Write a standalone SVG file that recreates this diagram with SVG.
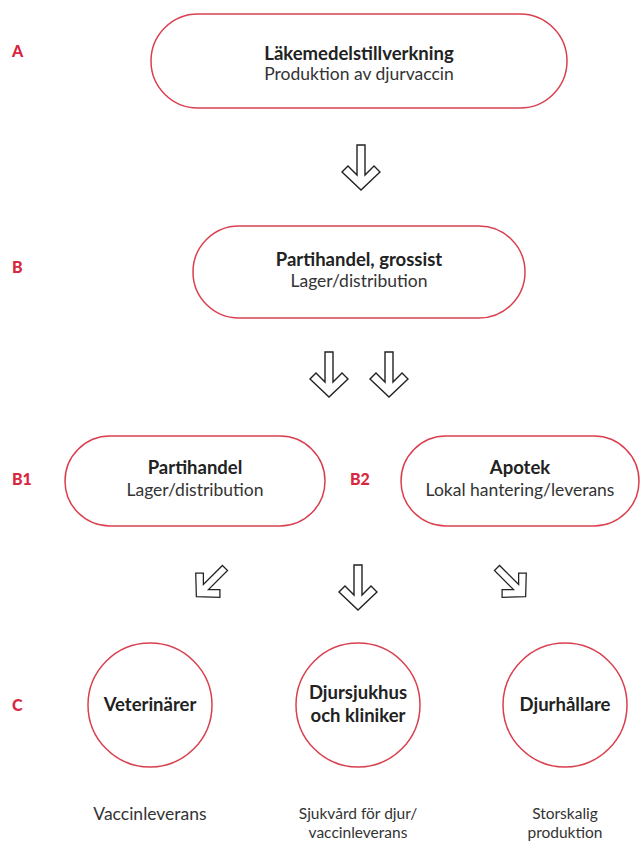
<svg xmlns="http://www.w3.org/2000/svg" width="641" height="843" viewBox="0 0 641 843">
<style>
.box{fill:#fff;stroke:#d9404f;stroke-width:1.5}
.t{font-family:Lato,"Open Sans",sans-serif;fill:#222;text-anchor:middle}
.b{font-weight:700;font-size:18.5px}
.r{font-size:17.5px;fill:#333}
.c{font-size:15.5px}
.lab{font-family:Lato,"Open Sans",sans-serif;font-weight:900;font-size:16px;fill:#d9263f}
.arr{fill:#fff;stroke:#222;stroke-width:1.4;stroke-linejoin:miter}
</style>
<defs>
<polygon id="ad" points="-4,-22 4,-22 4,8 13,-1 19,5 0,23 -19,5 -13,-1 -4,8"/>
</defs>
<rect width="641" height="843" fill="#fff"/>
<g id="labels">
<text class="lab" x="12" y="57">A</text>
<text class="lab" x="12" y="273">B</text>
<text class="lab" x="12" y="485">B1</text>
<text class="lab" x="350" y="485">B2</text>
<text class="lab" x="12" y="711">C</text>
</g>
<g id="nodeA">
<rect class="box" x="151" y="14" width="416" height="94" rx="47"/>
<text class="t b" x="359" y="60">Läkemedelstillverkning</text>
<text class="t r" x="359" y="80">Produktion av djurvaccin</text>
</g>
<g id="nodeB">
<rect class="box" x="193" y="226" width="332" height="92" rx="46"/>
<text class="t b" x="359" y="266">Partihandel, grossist</text>
<text class="t r" x="359" y="287">Lager/distribution</text>
</g>
<g id="nodeB1">
<rect class="box" x="65" y="436" width="260" height="90" rx="45"/>
<text class="t b" x="195" y="474">Partihandel</text>
<text class="t r" x="195" y="496">Lager/distribution</text>
</g>
<g id="nodeB2">
<rect class="box" x="401" y="436" width="238" height="90" rx="45"/>
<text class="t b" x="520" y="474">Apotek</text>
<text class="t r" x="520" y="496">Lokal hantering/leverans</text>
</g>
<g id="nodeC1">
<circle class="box" cx="150" cy="705" r="62"/>
<text class="t b" x="150" y="711">Veterinärer</text>
</g>
<g id="nodeC2">
<circle class="box" cx="358" cy="705" r="62"/>
<text class="t b" x="358" y="699">Djursjukhus</text>
<text class="t b" x="358" y="722">och kliniker</text>
</g>
<g id="nodeC3">
<circle class="box" cx="565" cy="705" r="62"/>
<text class="t b" x="565" y="711">Djurhållare</text>
</g>
<g id="captions">
<text class="t r" x="150" y="820">Vaccinleverans</text>
<text class="t r c" x="358" y="819">Sjukvård för djur/</text>
<text class="t r c" x="358" y="838">vaccinleverans</text>
<text class="t r c" x="565" y="819">Storskalig</text>
<text class="t r c" x="565" y="838">produktion</text>
</g>
<g id="connectors">
<use href="#ad" class="arr" transform="translate(361,167)"/>
<use href="#ad" class="arr" transform="translate(329,374)"/>
<use href="#ad" class="arr" transform="translate(389,374)"/>
<use href="#ad" class="arr" transform="translate(211,582) rotate(45) scale(0.9)"/>
<use href="#ad" class="arr" transform="translate(358,587)"/>
<use href="#ad" class="arr" transform="translate(511,582) rotate(-45) scale(0.9)"/>
</g>
</svg>
